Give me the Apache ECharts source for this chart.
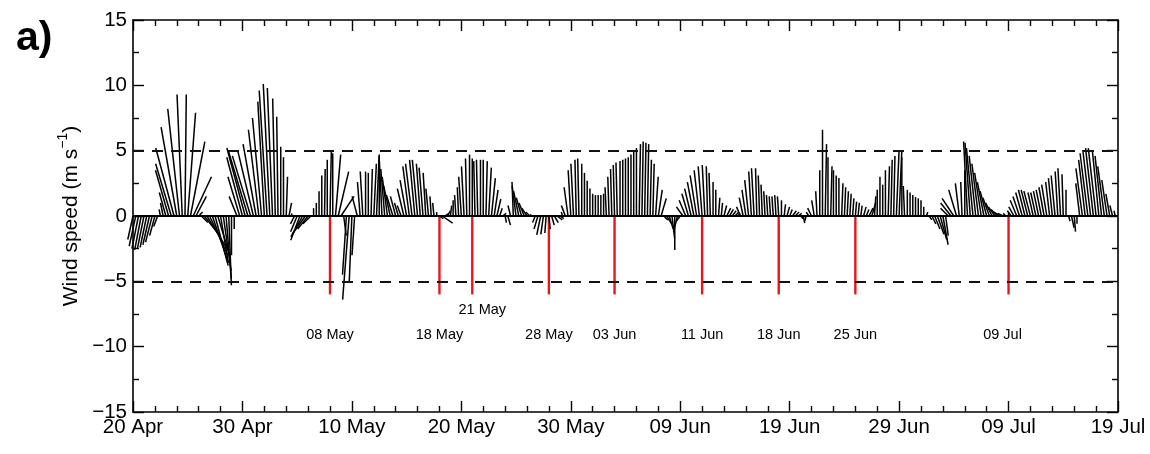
<!DOCTYPE html>
<html>
<head>
<meta charset="utf-8">
<script src="https://cdn.jsdelivr.net/npm/echarts@6/dist/echarts.min.js"></script>
<style>html,body{margin:0;padding:0;background:#fff;}#chart{width:1150px;height:454px;}</style>
</head>
<body>
<div id="chart"></div>
<script>
// ---------------- DATA ----------------
// wind sticks, 6-hourly from 20 Apr 00:00 (day 0); u = east component, v = north component (m/s)
const startDay = 0;
const stepDays = 0.25;
const windU = [
 -0.4,-0.5,-0.5,-0.5,   -0.5,-0.5,-0.5,-0.5,   -0.4,-0.3,-0.1,-0.2,   -0.5,-1.0,-1.2,-1.4,
 -1.2,-0.9,-0.4,0.1,    0.6,1.1,1.4,0.8,       0.3,0.5,1.2,1.6,       1.4,1.2,1.0,0.9,
 0.6,0.6,0.4,0.2,       0.0,0.0,-0.6,-0.9,     -1.2,-1.4,-1.5,-1.4,   -1.2,-1.0,-0.8,-0.7,
 -0.5,-0.6,-0.5,-0.4,   -0.2,-0.1,0.0,0.0,     0.1,0.2,0.0,-0.3,      -0.5,-0.7,-0.9,-1.0,
 -0.8,-0.6,0.0,0.0,     0.0,0.0,0.05,0.0,      0.1,0.0,0.4,0.8,       1.0,0.2,-0.3,-0.5,
 -0.2,-0.2,-0.4,-0.2,   -0.2,0.0,0.0,0.1,      0.2,0.2,0.0,-0.2,      -0.3,-0.4,-0.5,-0.5,
 -0.4,-0.3,-0.3,-0.5,   -0.5,-0.5,-0.5,-0.4,   -0.4,-0.3,-0.3,-0.2,   -0.2,-0.1,-0.1,0.0,
 0.3,0.8,0.3,0.2,       0.1,0.0,-0.1,-0.1,     -0.2,-0.2,-0.1,0.0,    0.0,-0.1,-0.1,0.0,
 0.0,0.1,0.2,0.3,       0.3,0.3,0.2,0.3,       0.1,0.2,-0.2,-0.1,     -0.3,-0.4,-0.4,-0.4,
 -0.4,-0.3,-0.2,-0.2,   -0.3,-0.3,-0.2,-0.1,   0.1,0.2,0.3,0.4,       0.3,-0.1,-0.3,-0.3,
 -0.2,-0.2,-0.1,-0.1,   0.0,0.0,0.0,0.0,       0.0,0.0,0.0,0.0,       0.0,-0.1,-0.1,-0.1,
 -0.1,-0.1,0.0,0.0,     0.0,0.0,0.0,0.0,       0.0,0.1,0.1,0.1,       0.1,0.1,0.1,0.2,
 0.3,0.4,0.3,0.4,       0.3,0.2,0.0,-0.3,      -0.3,-0.5,-0.5,-0.5,   -0.5,-0.5,-0.5,-0.4,
 -0.3,-0.2,-0.1,-0.1,   0.0,0.0,0.1,0.1,       0.2,0.3,0.3,0.3,       0.3,0.2,-0.3,-0.3,
 -0.3,-0.3,-0.2,-0.2,   -0.1,-0.1,-0.1,-0.1,   -0.1,-0.1,-0.1,-0.1,   -0.1,0.0,0.1,0.2,
 0.2,0.3,0.3,0.3,       0.2,0.1,-0.1,-0.2,     -0.3,-0.2,-0.1,0.0,    0.0,0.1,0.0,0.1,
 0.0,0.0,0.0,0.1,       0.1,0.1,0.1,0.1,       0.1,0.1,0.1,0.2,       0.2,0.3,0.3,0.1,
 0.0,0.0,0.0,0.0,       0.1,0.1,0.1,0.2,       0.2,0.0,-0.1,0.0,      0.0,0.0,0.0,0.0,
 0.0,0.0,0.1,0.2,       0.3,0.4,0.5,0.5,       0.4,0.2,-0.6,-0.8,     -0.9,-0.6,-0.3,-0.1,
 0.0,-0.3,-0.4,-0.5,    -0.5,-0.5,-0.5,-0.5,   -0.5,-0.5,-0.5,-0.5,   -0.5,-0.5,-0.4,-0.2,
 0.0,-0.3,-0.4,-0.5,    -0.5,-0.5,-0.5,-0.5,   -0.5,-0.4,-0.4,-0.4,   -0.4,-0.4,-0.4,-0.3,
 -0.3,-0.3,-0.2,-0.2,   -0.1,0.0,0.1,0.2,      0.1,0.0,-0.3,-0.5,     -0.5,-0.6,-0.6,-0.6,
 -0.6,-0.5,-0.5,-0.5,   -0.4,-0.3,-0.2,-0.1
];
const windV = [
 -1.8,-2.3,-2.5,-2.6,   -2.5,-2.4,-2.2,-2.0,   -1.5,-0.8,0.5,1.0,     1.8,3.5,4.0,5.2,
 6.8,8.2,9.3,9.3,       7.9,5.7,3.0,1.5,       0.3,-0.5,-1.5,-2.6,    -3.0,-3.5,-3.8,-3.0,
 -3.6,-4.2,-4.8,-5.3,   -3.0,-1.0,1.5,3.0,     4.5,5.2,5.0,4.6,       5.0,5.5,6.6,7.5,
 8.75,9.6,10.1,9.8,     9.0,7.6,5.3,4.5,       3.0,1.0,0.2,-0.6,      -1.2,-1.85,-1.6,-1.4,
 -1.0,-0.6,0.6,1.0,     1.9,3.1,3.6,4.3,       4.9,4.8,4.7,3.4,       1.5,-1.5,-4.5,-6.4,
 -5.0,-3.0,1.5,2.6,     3.4,3.4,3.3,3.6,       4.0,4.6,4.7,4.2,       3.6,3.0,2.3,1.6,
 1.5,1.0,0.8,2.1,       2.75,3.8,4.0,4.3,      4.3,4.0,3.7,3.3,       2.1,1.5,1.0,0.3,
 -0.2,-0.55,0.2,0.4,    0.8,1.2,1.6,2.2,       3.0,3.8,4.4,4.7,       4.4,4.2,4.3,4.3,
 4.3,4.2,3.7,2.9,       2.0,1.3,0.6,0.2,       -0.5,-0.7,0.8,2.6,     2.3,1.9,1.4,1.0,
 0.6,0.3,0.1,-0.5,      -1.0,-1.45,-1.4,-1.3,  -1.0,-0.7,-0.5,-0.3,   -0.2,0.3,0.8,2.2,
 3.5,4.0,4.3,4.4,       4.0,3.3,2.7,2.1,       1.7,1.6,1.6,1.6,       1.7,2.2,3.0,3.6,
 3.9,4.1,4.2,4.3,       4.4,4.5,4.7,5.0,       5.2,5.5,5.7,5.6,       5.5,4.3,4.0,3.0,
 2.0,1.35,-0.3,-0.6,    -1.0,-1.7,-2.6,-1.2,   -0.4,0.7,1.2,1.7,      2.1,2.6,3.1,3.5,
 3.8,3.9,3.8,3.3,       2.6,2.0,1.4,1.0,       0.8,0.6,0.5,0.4,       0.3,0.2,0.7,1.4,
 2.0,2.75,3.4,3.65,     3.65,3.1,2.4,1.9,      1.6,1.5,1.5,1.6,       1.5,1.2,0.9,0.7,
 0.5,0.4,0.3,0.2,       -0.2,-0.55,-0.4,0.3,   0.6,1.2,1.9,3.5,       6.6,5.5,4.5,3.8,
 3.5,3.1,2.9,2.5,       2.2,1.9,1.7,1.35,      1.1,1.0,0.8,0.7,       0.5,0.6,1.0,1.5,
 2.0,3.0,2.4,3.5,       3.8,4.3,4.6,4.9,       4.9,4.5,2.3,2.0,       1.8,1.6,1.45,1.35,
 1.2,0.7,0.3,-0.3,      -0.6,-1.0,-1.4,-1.8,   -2.2,-1.5,0.6,1.0,     1.35,2.0,2.5,2.6,
 3.5,5.7,5.6,5.2,       4.6,4.0,3.3,2.6,       1.9,1.4,1.0,0.7,       0.5,0.3,0.2,0.2,
 0.3,0.4,0.7,1.2,       1.5,1.8,2.0,2.0,       1.9,1.8,1.8,1.9,       2.0,2.2,2.4,2.6,
 2.9,3.1,3.4,3.65,      3.2,2.0,-0.4,-0.9,     -1.2,-0.6,2.5,3.65,    4.3,4.8,5.05,5.2,
 5.2,5.05,4.6,3.8,      2.75,1.7,0.8,0.4
];
// x axis: days since 20 Apr, tick labels every 10 days
const xTickLabels = ['20 Apr','30 Apr','10 May','20 May','30 May','09 Jun','19 Jun','29 Jun','09 Jul','19 Jul'];
const yTickLabels = ['\u221215','\u221210','\u22125','0','5','10','15'];
// marked events (days since 20 Apr) and their labels
const eventDays = [18, 28, 31, 38, 44, 52, 59, 66, 80];
const eventLabels = ['08 May','18 May','21 May','28 May','03 Jun','11 Jun','18 Jun','25 Jun','09 Jul'];
const eventLineBottom = -6;
const referenceLevels = [-5, 0, 5];

// ---------------- LAYOUT / STYLE ----------------
const labelFont = 'Liberation Sans, Arial, Helvetica, sans-serif';
const eventLabelPlace = { // [dx px, y value]
  '21 May': [10, -7.2], '09 Jul': [-6, -9.1]
};
const defaultLabelPlace = [0, -9.1];

const stickData = windU.map((u, i) => [startDay + i * stepDays, u, windV[i]]);
const eventData = eventDays.map((d, i) => [d, eventLineBottom, i]);

const chart = echarts.init(document.getElementById('chart'), null, {renderer: 'canvas'});

const axisLineStyle = {color: '#000', width: 1.6};
const tickStyle = {color: '#000', width: 1.4};

const option = {
  backgroundColor: '#fff',
  animation: false,
  title: {
    text: 'a)', left: 11, top: 13,
    textStyle: {fontFamily: 'Liberation Sans Narrow, Liberation Sans, Arial, sans-serif', fontWeight: 'bold', fontSize: 41, color: '#000'}
  },
  grid: {left: 133, right: 32, top: 20, bottom: 42, containLabel: false},
  xAxis: [{
    type: 'value', min: 0, max: 90, interval: 10, position: 'bottom',
    axisLine: {show: true, onZero: false, lineStyle: axisLineStyle},
    axisTick: {show: true, inside: true, length: 11, lineStyle: tickStyle},
    minorTick: {show: true, splitNumber: 5, length: 6, lineStyle: tickStyle},
    splitLine: {show: false}, minorSplitLine: {show: false},
    axisLabel: {show: true, margin: 5, color: '#000', fontSize: 20.5, fontFamily: labelFont,
      formatter: (val) => xTickLabels[Math.round(val / 10)] || ''}
  }, {
    type: 'value', min: 0, max: 90, interval: 10, position: 'top',
    axisLine: {show: true, onZero: false, lineStyle: axisLineStyle},
    axisTick: {show: true, inside: true, length: 11, lineStyle: tickStyle},
    minorTick: {show: true, splitNumber: 5, length: 6, lineStyle: tickStyle},
    splitLine: {show: false}, axisLabel: {show: false}
  }],
  yAxis: [{
    type: 'value', min: -15, max: 15, interval: 5, position: 'left',
    axisLine: {show: true, onZero: false, lineStyle: axisLineStyle},
    axisTick: {show: true, inside: true, length: 11, lineStyle: tickStyle},
    minorTick: {show: true, splitNumber: 2, length: 6, lineStyle: tickStyle},
    splitLine: {show: false},
    axisLabel: {show: true, margin: 6, color: '#000', fontSize: 20.5, fontFamily: labelFont,
      formatter: (val) => yTickLabels[Math.round((val + 15) / 5)]},
    name: '{a|Wind speed (m s}{b|\u22121}{a|)}',
    nameLocation: 'middle', nameGap: 50, nameRotate: 90,
    nameTextStyle: {
      color: '#000', fontFamily: labelFont,
      rich: {
        a: {fontSize: 21, fontFamily: labelFont, color: '#000', lineHeight: 25, verticalAlign: 'bottom'},
        b: {fontSize: 14, fontFamily: labelFont, color: '#000', lineHeight: 25, verticalAlign: 'top'}
      }
    }
  }, {
    type: 'value', min: -15, max: 15, interval: 5, position: 'right',
    axisLine: {show: true, onZero: false, lineStyle: axisLineStyle},
    axisTick: {show: true, inside: true, length: 11, lineStyle: tickStyle},
    minorTick: {show: true, splitNumber: 2, length: 6, lineStyle: tickStyle},
    splitLine: {show: false}, axisLabel: {show: false}
  }],
  series: [
    {
      type: 'line', data: [], xAxisIndex: 0, yAxisIndex: 0, silent: true,
      markLine: {
        silent: true, symbol: 'none', label: {show: false}, animation: false,
        data: referenceLevels.map(l => ({
          yAxis: l,
          lineStyle: l === 0 ? {color: '#000', width: 2, type: 'solid'}
                             : {color: '#111', width: 1.8, type: [11, 8]}
        }))
      }
    },
    {
      type: 'custom', name: 'events', xAxisIndex: 0, yAxisIndex: 0, silent: true, z: 2,
      data: eventData,
      renderItem: (params, api) => {
        const d = api.value(0);
        const i = api.value(2);
        const top = api.coord([d, 0]);
        const bot = api.coord([d, api.value(1)]);
        const lab = eventLabels[i];
        const place = eventLabelPlace[lab] || defaultLabelPlace;
        const lp = api.coord([d, place[1]]);
        return {
          type: 'group',
          children: [
            {type: 'line', shape: {x1: top[0], y1: top[1], x2: bot[0], y2: bot[1]},
             style: {stroke: '#e8161c', lineWidth: 2.4}},
            {type: 'text', x: lp[0] + place[0], y: lp[1],
             style: {text: lab, fill: '#000', fontSize: 14.5, fontFamily: labelFont, align: 'center', verticalAlign: 'middle'}}
          ]
        };
      }
    },
    {
      type: 'custom', name: 'wind', xAxisIndex: 0, yAxisIndex: 0, silent: true, z: 3,
      data: stickData,
      renderItem: (params, api) => {
        const base = api.coord([api.value(0), 0]);
        const unit = api.size([0, 1])[1]; // pixels per m/s (same scale for u and v)
        const u = api.value(1), v = api.value(2);
        return {
          type: 'line',
          shape: {x1: base[0], y1: base[1], x2: base[0] + u * unit, y2: base[1] - v * unit},
          style: {stroke: '#000', lineWidth: 1.5}
        };
      }
    }
  ]
};
chart.setOption(option);
</script>
</body>
</html>
